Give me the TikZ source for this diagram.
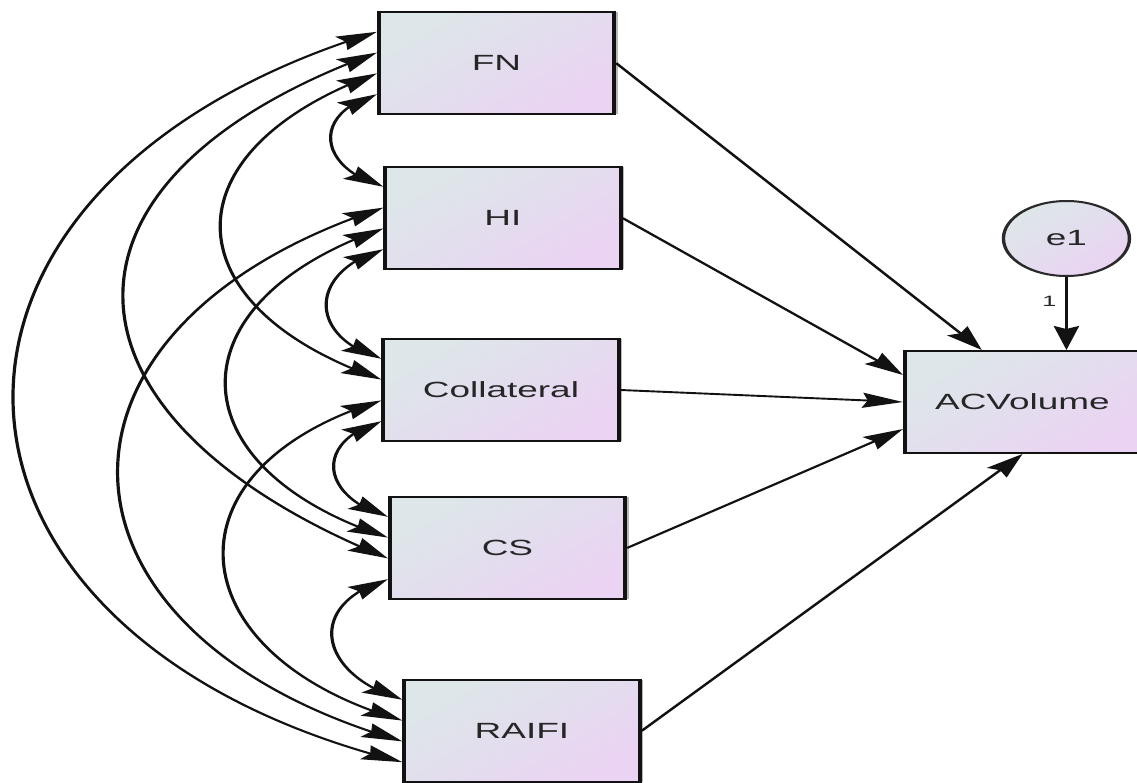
\documentclass[tikz,border=0pt]{standalone}
\usepackage{fontspec}
\setmainfont{Liberation Sans}
\usetikzlibrary{arrows.meta,bending,calc,shadows}

\definecolor{fillA}{RGB}{221,231,233}
\definecolor{fillB}{RGB}{234,211,243}
\definecolor{ink}{RGB}{18,18,18}

\begin{document}
\begin{tikzpicture}[x=1pt,y=-1pt]
\useasboundingbox (0,0) rectangle (1137,783);
% The model is laid out in a horizontally stretched frame (factor 1.68):
% coordinates are given in final units, shapes and text are stretched.
\begin{scope}[overlay, x=0.5952pt, y=-1pt, transform canvas={xscale=1.68},
  >={Stealth[length=24pt,width=15pt,inset=3pt]},
  var/.style={rectangle, draw=ink, line width=2.2pt,
    minimum width=140.1pt, minimum height=101.8pt, inner sep=0pt,
    top color=fillA, bottom color=fillB, shading angle=45,
    font=\fontsize{22}{26}\selectfont, text=black!85,
    drop shadow={shadow xshift=2pt, shadow yshift=0pt, fill=black!28, opacity=1}},
  err/.style={circle, draw=ink!90, line width=2pt, minimum size=75pt,
    inner sep=0pt, top color=fillA, bottom color=fillB, shading angle=45,
    font=\fontsize{22}{26}\selectfont, text=black!85},
  path/.style={draw=ink, line width=1.9pt, ->},
  cov/.style={draw=ink, line width=1.9pt, <->}]

  % observed variables
  \node[var] (fn)    at (496.5,63)  {FN};
  \node[var] (hi)    at (503,218)   {HI};
  \node[var] (col)   at (501,390)   {Collateral};
  \node[var] (cs)    at (507.5,548) {CS};
  \node[var] (raifi) at (522,731)   {RAIFI};
  \node[var] (acv)   at (1022.5,402) {ACVolume};
  % error term
  \node[err] (e1)    at (1066.5,238.5) {e1};

  % attachment points on the left side of each exogenous box
  \foreach \n in {fn,hi,col,cs,raifi}{
    \foreach \f/\k in {0.2/1,0.4/2,0.6/3,0.8/4}{
      \coordinate (\n\k) at ($(\n.north west)!\f!(\n.south west)$);
    }
  }
  % attachment points on the dependent box
  \coordinate (acvT)  at ($(acv.north west)!0.33!(acv.north east)$);
  \coordinate (acvL1) at ($(acv.north west)!0.24!(acv.south west)$);
  \coordinate (acvL3) at ($(acv.north west)!0.76!(acv.south west)$);

  % covariances
  \draw[cov] (fn1) .. controls +(-498.4,152.2) and +(-505.7,-126.2) .. (raifi4);
  \draw[cov] (fn2) .. controls +(-348.4,126.8) and +(-343.6,-138.8) .. (cs3);
  \draw[cov] (fn3) .. controls +(-211.3,76.9) and +(-212.7,-73.3) .. (col2);
  \draw[cov] (fn4) .. controls +(-66,19) and +(-66,-19) .. (hi1);
  \draw[cov] (hi2) .. controls +(-365,119) and +(-369,-106) .. (raifi3);
  \draw[cov] (hi3) .. controls +(-213.4,73.5) and +(-214.5,-69.7) .. (cs2);
  \draw[cov] (hi4) .. controls +(-75,22) and +(-75,-22) .. (col1);
  \draw[cov] (col3) .. controls +(-224.1,68.4) and +(-225.3,-64.7) .. (raifi2);
  \draw[cov] (col4) .. controls +(-68,20) and +(-68,-20) .. (cs1);
  \draw[cov] (cs4) .. controls +(-84,25) and +(-84,-25) .. (raifi1);

  % regression paths
  \draw[path] (fn.east)    -- (acvT);
  \draw[path] (hi.east)    -- (acvL1);
  \draw[path] (col.east)   -- (acv.west);
  \draw[path] (cs.east)    -- (acvL3);
  \draw[path] (raifi.east) -- (acv.south);
  \draw[path] (e1.south) -- (e1.south |- acv.north)
    node[pos=0.34, anchor=east, xshift=-5pt, inner sep=0pt,
         font=\fontsize{15}{18}\selectfont, text=black!85] (w1) {1};
\end{scope}
\end{tikzpicture}
\end{document}
